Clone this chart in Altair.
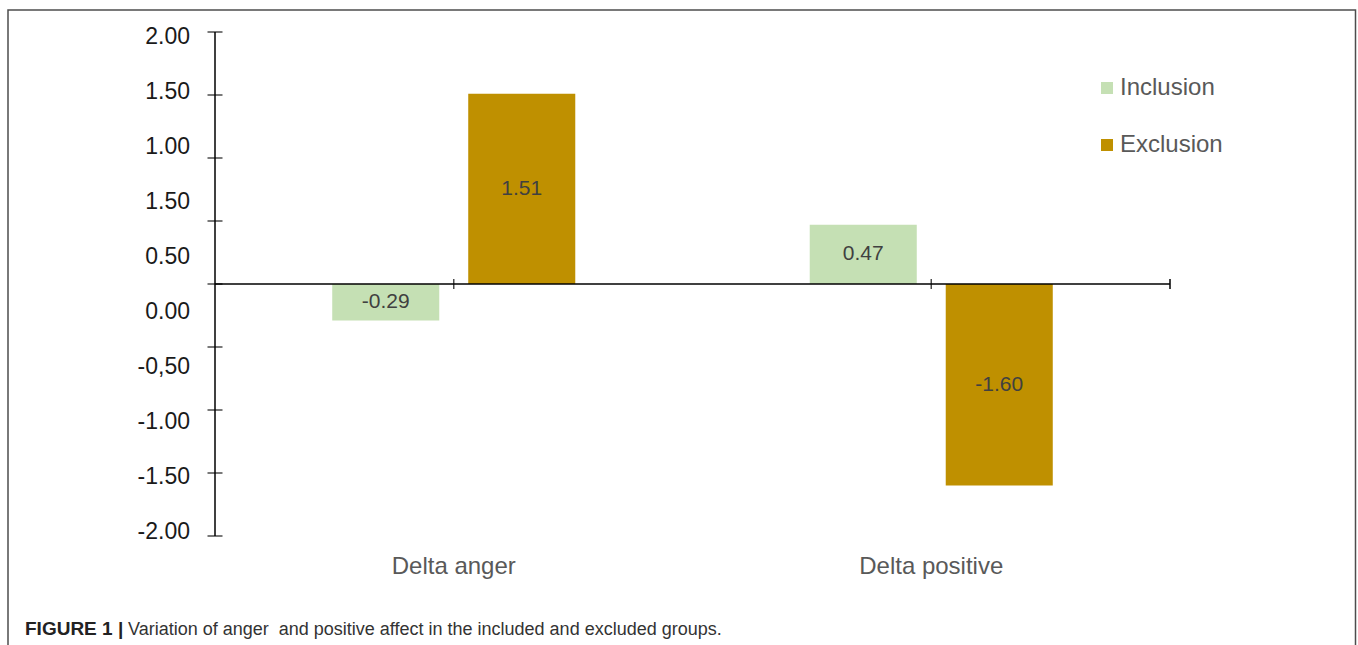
import altair as alt
import pandas as pd

# ---- data ----
categories = ["Delta anger", "Delta positive"]
series = ["Inclusion", "Exclusion"]
inclusion = [-0.29, 0.47]
exclusion = [1.51, -1.60]
colors = ["#c5e0b4", "#bf9000"]
y_tick_values = [-2.0, -1.5, -1.0, -0.5, 0.0, 0.5, 1.0, 1.5, 2.0]
y_tick_labels = ["2.00", "1.50", "1.00", "1.50", "0.50", "0.00", "-0,50", "-1.00", "-1.50", "-2.00"]
caption_bold = "FIGURE 1 |"
caption_text = "Variation of anger \u00a0and positive affect in the included and excluded groups."

FONT = "Liberation Sans"
W, H = 955, 504
PAD_L, PAD_T = 215, 32

rows = []
for i, c in enumerate(categories):
    for s, vals in zip(series, [inclusion, exclusion]):
        rows.append({"category": c, "series": s, "value": vals[i], "label": f"{vals[i]:.2f}"})
bars_df = pd.DataFrame(rows)

yscale = alt.Scale(domain=[-2, 2], nice=False, zero=False)
xscale = alt.Scale(domain=categories, paddingInner=0, paddingOuter=0)
xoff_scale = alt.Scale(domain=series, paddingInner=0.213, paddingOuter=0.862)

bars = alt.Chart(bars_df).mark_bar().encode(
    x=alt.X("category:N", scale=xscale, axis=None, sort=categories),
    xOffset=alt.XOffset("series:N", scale=xoff_scale, sort=series),
    y=alt.Y("value:Q", scale=yscale, axis=None),
    color=alt.Color(
        "series:N",
        scale=alt.Scale(domain=series, range=colors),
        sort=series,
        legend=alt.Legend(
            orient="none", legendX=880, legendY=44, title=None,
            symbolType="square", symbolSize=144, symbolStrokeWidth=0,
            labelFontSize=24, labelFont=FONT, labelColor="#595959",
            labelOffset=1, rowPadding=33, padding=0,
        ),
    ),
)

bar_labels = alt.Chart(bars_df).transform_calculate(mid="datum.value / 2").mark_text(
    font=FONT, fontSize=21, color="#404040", baseline="middle"
).encode(
    x=alt.X("category:N", scale=xscale, axis=None, sort=categories),
    xOffset=alt.XOffset("series:N", scale=xoff_scale, sort=series),
    y=alt.Y("mid:Q", scale=yscale, axis=None),
    text="label:N",
)

cat_df = pd.DataFrame({"category": categories, "zero": [0.0, 0.0]})
x_ticks = alt.Chart(cat_df).mark_tick(orient="vertical", size=10, thickness=1.5, color="black").encode(
    x=alt.X("category:N", scale=xscale, axis=None, sort=categories),
    y=alt.Y("zero:Q", scale=yscale, axis=None),
)
cat_labels = alt.Chart(cat_df).mark_text(font=FONT, fontSize=24, color="#595959", baseline="middle").encode(
    x=alt.X("category:N", scale=xscale, axis=None, sort=categories),
    y=alt.value(535),
    text="category:N",
)

line_df = pd.DataFrame({"lo": [-2.0], "hi": [2.0], "zero": [0.0], "tlo": [-0.04], "thi": [0.04]})
x_line = alt.Chart(line_df).mark_rule(color="black", strokeWidth=1.5).encode(
    x=alt.value(0), x2=alt.value(W), y=alt.Y("zero:Q", scale=yscale, axis=None)
)
x_end_tick = alt.Chart(line_df).mark_rule(color="black", strokeWidth=1.5).encode(
    x=alt.value(W), y=alt.Y("tlo:Q", scale=yscale, axis=None), y2="thi:Q"
)
y_line = alt.Chart(line_df).mark_rule(color="black", strokeWidth=1.5).encode(
    x=alt.value(0), y=alt.Y("lo:Q", scale=yscale, axis=None), y2="hi:Q"
)
ytick_df = pd.DataFrame({"v": y_tick_values})
y_ticks = alt.Chart(ytick_df).mark_tick(orient="horizontal", size=15, thickness=1.5, color="black").encode(
    x=alt.value(0),
    y=alt.Y("v:Q", scale=yscale, axis=None),
)

ylab_df = pd.DataFrame({"idx": list(range(len(y_tick_labels))), "label": y_tick_labels})
y_labels = alt.Chart(ylab_df).mark_text(
    font=FONT, fontSize=23, color="#1a1a1a", align="right", baseline="middle"
).encode(
    x=alt.value(-25),
    y=alt.Y("idx:Q", axis=None, scale=alt.Scale(domain=[-0.09, 9.07], reverse=True, nice=False, zero=False)),
    text="label:N",
)

one = pd.DataFrame({"b": [caption_bold], "t": [caption_text]})
frame = alt.Chart(one).mark_rect(filled=False, stroke="#4d4d4d", strokeWidth=1.5).encode(
    x=alt.value(-207), x2=alt.value(1140.5), y=alt.value(-22), y2=alt.value(700)
)
cap_bold = alt.Chart(one).mark_text(
    font=FONT, fontSize=19, fontWeight="bold", color="#222222", align="left", baseline="alphabetic"
).encode(x=alt.value(-190), y=alt.value(603), text="b:N")
cap_norm = alt.Chart(one).mark_text(
    font=FONT, fontSize=18, color="#333333", align="left", baseline="alphabetic"
).encode(x=alt.value(-87), y=alt.value(603), text="t:N")

chart = alt.layer(
    frame, bars, bar_labels, x_line, x_end_tick, y_line, y_ticks, x_ticks, cat_labels,
    y_labels, cap_bold, cap_norm
).resolve_scale(
    y="independent"
).properties(
    width=W, height=H,
    autosize=alt.AutoSizeParams(type="none"),
    padding={"left": PAD_L, "top": PAD_T, "right": 1358 - PAD_L - W, "bottom": 645 - PAD_T - H},
    background="white",
).configure_view(stroke=None)

chart.save("out.html", embed_options={"renderer": "svg", "actions": False})
